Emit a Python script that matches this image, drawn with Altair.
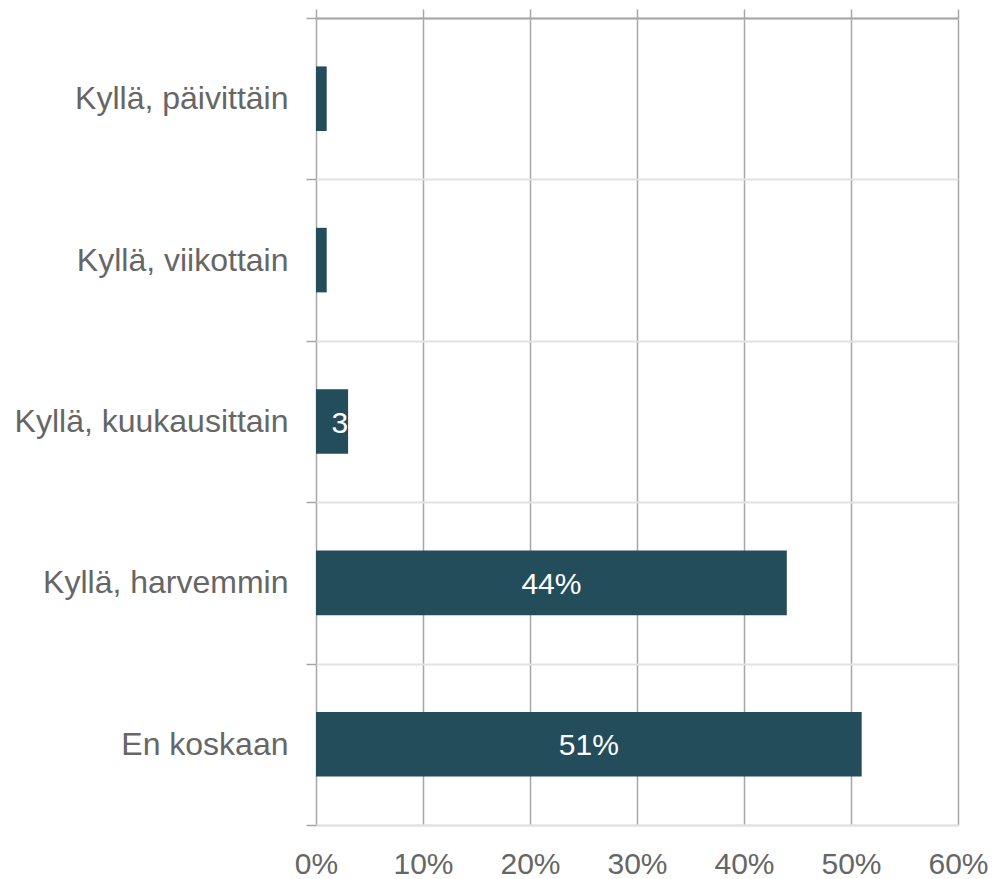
import altair as alt
import pandas as pd

categories = ["Kyllä, päivittäin", "Kyllä, viikottain", "Kyllä, kuukausittain",
              "Kyllä, harvemmin", "En koskaan"]
values = [0.01, 0.01, 0.03, 0.44, 0.51]
labels = ["", "", "3", "44%", "51%"]
x_ticks = [0, 0.1, 0.2, 0.3, 0.4, 0.5, 0.6]

df = pd.DataFrame({"cat": categories, "value": values, "label": labels})

FONT = "Liberation Sans"
TXT = "#666666"
GRID = "#a6a6a6"
LIGHT = "#e2e2e2"
BAR = "#244d5c"

xscale = alt.Scale(domain=[0, 0.6], nice=False, zero=True)
yscale = alt.Scale(paddingInner=0, paddingOuter=0)

yaxis = alt.Axis(title=None, domain=False, tickBand="extent",
                 ticks=True, tickSize=10, tickColor=GRID, tickWidth=1.5,
                 grid=True, gridColor=LIGHT, gridWidth=2,
                 labelPadding=18, labelFontSize=32, labelColor=TXT,
                 labelFont=FONT, labelLimit=500)
y_enc = alt.Y("cat:N", sort=categories, scale=yscale, axis=yaxis)

base = alt.Chart(df)

bars = base.mark_bar(color=BAR, height=alt.RelativeBandSize(0.4)).encode(
    x=alt.X("value:Q", scale=xscale,
            axis=alt.Axis(orient="bottom", values=x_ticks, format=".0%", title=None,
                          ticks=False, labelPadding=24, labelFontSize=30,
                          labelColor=TXT, labelFont=FONT, labelFlush=False,
                          domainColor=LIGHT, domainWidth=2,
                          grid=True, gridColor=GRID, gridWidth=1.5)),
    y=y_enc,
)

center_text = base.transform_filter("datum.value >= 0.1").transform_calculate(
    mid="datum.value / 2"
).mark_text(color="white", fontSize=30, font=FONT, align="center", baseline="middle", dy=2).encode(
    x=alt.X("mid:Q", scale=xscale,
            axis=alt.Axis(orient="top", values=x_ticks, labels=False, title=None,
                          ticks=True, tickSize=9, tickColor=GRID, tickWidth=1.5,
                          domainColor=GRID, domainWidth=2, grid=False)),
    y=y_enc,
    text="label:N",
)

small_text = base.transform_filter("datum.value < 0.1").mark_text(
    color="white", fontSize=30, font=FONT, align="right", baseline="middle", dy=2
).encode(
    x=alt.X("value:Q", scale=xscale, axis=None),
    y=y_enc,
    text="label:N",
)

chart = alt.layer(bars, center_text, small_text).resolve_axis(x="independent").properties(
    width=642, height=807,
    autosize=alt.AutoSizeParams(type="none"),
    padding={"left": 308, "top": 10, "right": 34, "bottom": 54},
).configure_view(stroke=None)

chart.save("out.html", embed_options={"renderer": "svg", "actions": False})
